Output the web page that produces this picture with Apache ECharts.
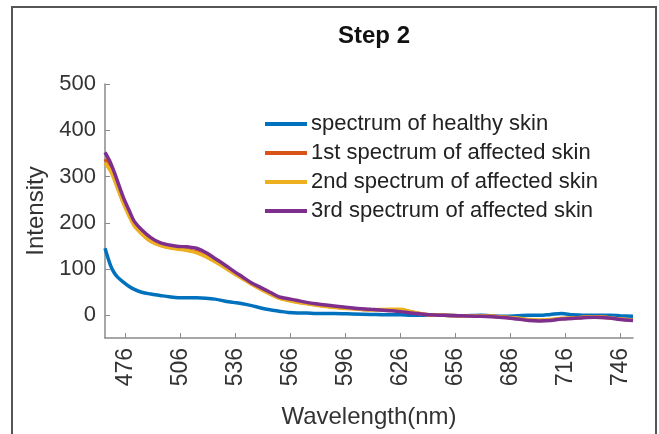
<!DOCTYPE html>
<html>
<head>
<meta charset="utf-8">
<title>Step 2</title>
<script src="https://cdn.jsdelivr.net/npm/echarts@6/dist/echarts.min.js"></script>
<style>
  html, body { margin: 0; padding: 0; background: #fff; }
  #chart { width: 659px; height: 434px; }
</style>
</head>
<body>
<div id="chart"></div>
<script>
// wavelengths (nm) shared by all spectra
var wavelengths = [465, 468, 470, 472, 475, 478, 481, 485, 490, 495, 500, 505, 510, 515, 520, 525, 530, 535, 540, 545,
  550, 555, 560, 565, 570, 575, 580, 590, 600, 610, 620, 626, 632, 640, 650, 660, 670, 680, 690, 696,
  702, 708, 714, 720, 726, 732, 740, 746, 753];

var healthy = [145, 108, 92, 82, 72, 63, 56, 50, 46, 43, 40, 38, 38, 38, 37, 35, 31, 28, 25, 21,
  16, 12, 9, 6, 5, 5, 4, 4, 3, 2, 1, 1, 0, 0, 0, -1, 0, -2, -1, 0,
  0, 2, 4, 1, 0, 0, 0, -1, -2];

var affected1 = [338, 318, 298, 276, 245, 218, 195, 177, 160, 152, 147, 144, 141, 137, 128, 117, 105, 92, 80, 68,
  57, 47, 38, 33, 29, 26, 23, 18, 15, 12, 12, 12, 7, 2, 0, -1, -1, -3, -7, -10,
  -11, -10, -7, -6, -4, -3, -5, -8, -10];

var affected2 = [330, 312, 294, 273, 242, 216, 193, 176, 160, 151, 146, 143, 140, 135, 127, 116, 104, 91, 79, 67,
  56, 46, 37, 32, 28, 25, 22, 17, 14, 12, 13, 13, 8, 2, 0, -1, -1, -3, -6, -9,
  -10, -9, -7, -6, -4, -3, -5, -8, -10];

var affected3 = [352, 330, 310, 288, 255, 228, 203, 185, 168, 157, 152, 149, 148, 145, 136, 123, 110, 96, 83, 70,
  60, 50, 40, 36, 32, 28, 25, 20, 16, 13, 10, 8, 5, 2, 0, -1, -2, -4, -8, -11,
  -12, -11, -8, -7, -5, -4, -6, -9, -11];

var xTicks = [476, 506, 536, 566, 596, 626, 656, 686, 716, 746];
var yTicks = [0, 100, 200, 300, 400, 500];

var seriesNames = [
  'spectrum of healthy skin',
  '1st spectrum of affected skin',
  '2nd spectrum of affected skin',
  '3rd spectrum of affected skin'
];
var seriesColors = ['#0072BD', '#D95319', '#EDB120', '#7E2F8E'];
var seriesData = [healthy, affected1, affected2, affected3];

function pairs(values) {
  return wavelengths.map(function (w, i) { return [w, values[i]]; });
}

var chart = echarts.init(document.getElementById('chart'));
var font = 'Liberation Sans, Arial, sans-serif';

chart.setOption({
  animation: false,
  textStyle: { fontFamily: font },
  title: {
    text: 'Step 2',
    left: 369,
    textAlign: 'center',
    top: 19,
    textStyle: { fontSize: 24, fontWeight: 'bold', color: '#111', fontFamily: font }
  },
  legend: {
    orient: 'vertical',
    left: 260,
    top: 108,
    itemWidth: 42,
    itemHeight: 4,
    itemGap: 7,
    icon: 'rect',
    data: seriesNames,
    textStyle: { fontSize: 22, color: '#222', fontFamily: font, padding: [0, 0, 0, -1] }
  },
  grid: { left: 105, right: 26, top: 84, bottom: 94 },
  xAxis: {
    type: 'value',
    min: 465,
    max: 753,
    name: 'Wavelength(nm)',
    nameLocation: 'middle',
    nameGap: 67,
    nameTextStyle: { fontSize: 24, color: '#333', fontFamily: font },
    axisLine: { onZero: false, lineStyle: { color: '#8a8a8a', width: 1.5 } },
    axisTick: { inside: true, length: 5, customValues: xTicks, lineStyle: { color: '#8a8a8a' } },
    axisLabel: { customValues: xTicks, rotate: 90, fontSize: 23, color: '#333', margin: 10, fontFamily: font },
    splitLine: { show: false }
  },
  yAxis: {
    type: 'value',
    min: -49,
    max: 500,
    name: 'Intensity',
    nameLocation: 'middle',
    nameGap: 53,
    nameTextStyle: { fontSize: 24, color: '#333', fontFamily: font },
    axisLine: { show: true, onZero: false, lineStyle: { color: '#8a8a8a', width: 1.5 } },
    axisTick: { show: true, inside: true, length: 5, customValues: yTicks, lineStyle: { color: '#8a8a8a' } },
    axisLabel: { customValues: yTicks, fontSize: 22, color: '#333', margin: 9, fontFamily: font },
    splitLine: { show: false }
  },
  graphic: [{
    type: 'rect',
    shape: { x: 12, y: 7, width: 644, height: 450 },
    style: { fill: null, stroke: '#555', lineWidth: 2 },
    silent: true
  }],
  series: seriesNames.map(function (name, i) {
    return {
      name: name,
      type: 'line',
      data: pairs(seriesData[i]),
      smooth: 0.3,
      showSymbol: false,
      color: seriesColors[i],
      lineStyle: { width: 3.5, color: seriesColors[i] }
    };
  })
});
</script>
</body>
</html>
